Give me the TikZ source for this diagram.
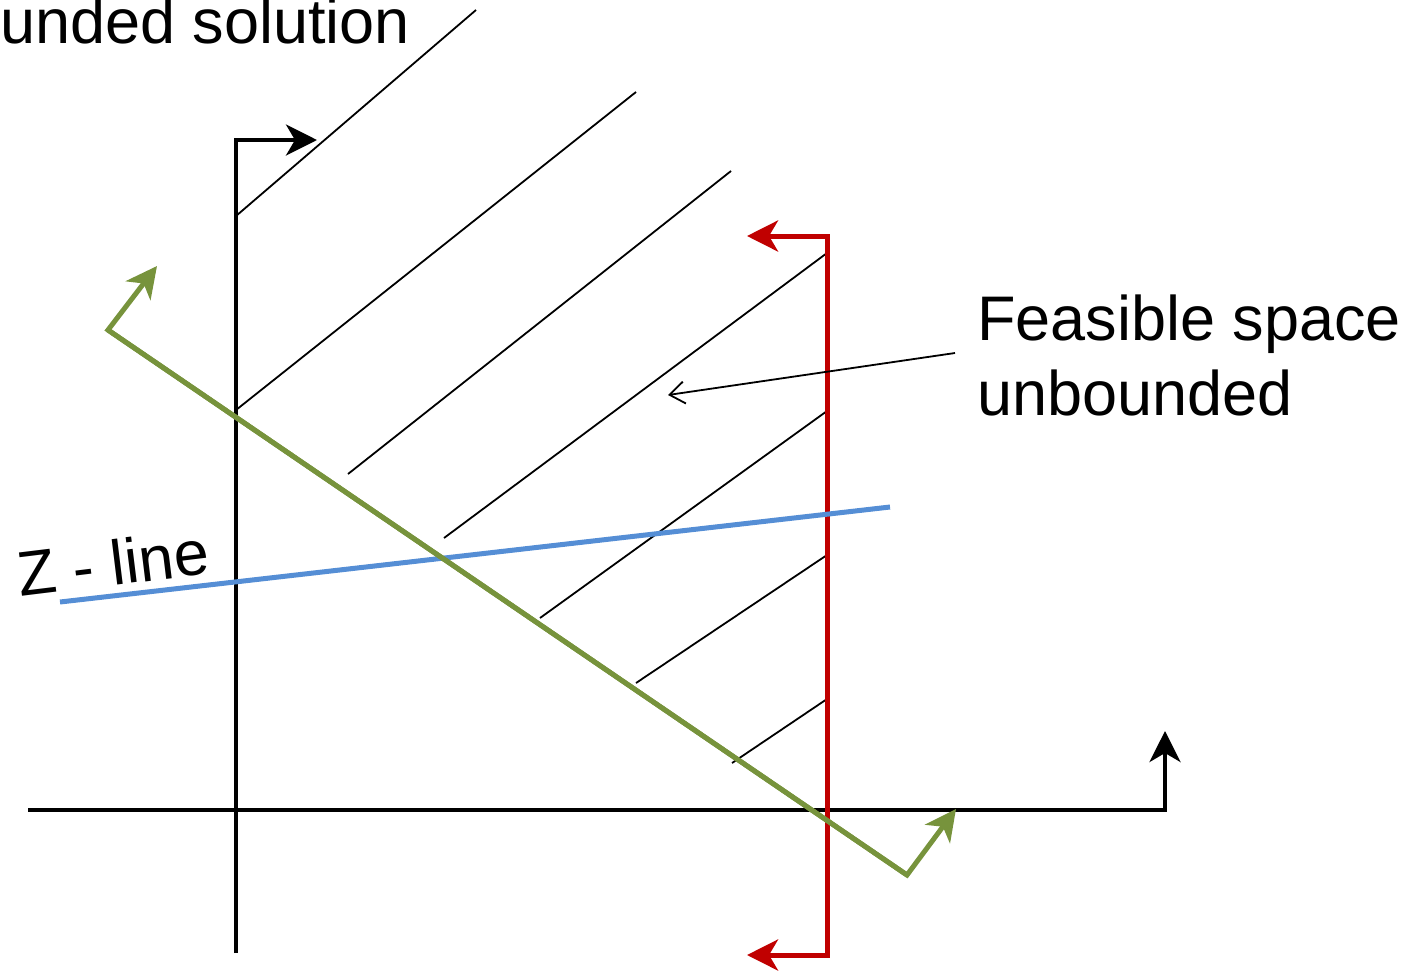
\documentclass[tikz,border=0pt]{standalone}
\usepackage{fontspec}
\setmainfont{Liberation Sans}
\usetikzlibrary{arrows.meta}
\definecolor{myred}{RGB}{192,0,0}
\definecolor{mygreen}{RGB}{119,147,60}
\definecolor{myblue}{RGB}{85,142,213}
\begin{document}
\begin{tikzpicture}[x=1pt,y=-1pt,
  axis/.style={line width=4pt,black},
  redl/.style={line width=5pt,myred},
  greenl/.style={line width=5pt,mygreen},
  bluel/.style={line width=5pt,myblue},
  hatch/.style={line width=1.8pt,black},
  bigtip/.style={-{Stealth[length=31pt,width=31pt,inset=9pt]}},
  lbl/.style={anchor=base west,inner sep=0pt,font=\fontsize{63}{75}\selectfont,align=left}]
\useasboundingbox (0,0) rectangle (1418,970);
\clip (0,0) rectangle (1418,970);
% coordinates
\coordinate (vtop) at (236,140);
\coordinate (vbot) at (236,953);
\coordinate (varr) at (317,140);
\coordinate (hl) at (28,810);
\coordinate (hr) at (1165,810);
\coordinate (harr) at (1165,731);
\coordinate (rtop) at (827,236);
\coordinate (rbot) at (827,955);
\coordinate (rtarr) at (747,236);
\coordinate (rbarr) at (747,955);
\coordinate (gtop) at (108,330);
\coordinate (gbot) at (907,875);
\coordinate (gtarr) at (157,266);
\coordinate (gbarr) at (956,809);
\coordinate (bl) at (60,602);
\coordinate (br) at (890,507);
% hatch lines
\draw[hatch] (236,216) -- (476,10);
\draw[hatch] (236,410) -- (636,92);
\draw[hatch] (348,474) -- (731,171);
\draw[hatch] (444,538) -- (827,253);
\draw[hatch] (540,618) -- (827,411);
\draw[hatch] (636,683) -- (827,555);
\draw[hatch] (732,763) -- (827,699);
% axes
\draw[axis,bigtip] (vbot) -- (vtop) -- (varr);
\draw[axis,bigtip] (hl) -- (hr) -- (harr);
% red constraint
\draw[redl,bigtip] (rbot) -- (rtop) -- (rtarr);
\draw[redl,bigtip] (rtop) -- (rbot) -- (rbarr);
% blue z-line
\draw[bluel] (bl) -- (br);
% green constraint
\draw[greenl,bigtip] (gbot) -- (gtop) -- (gtarr);
\draw[greenl,bigtip] (gtop) -- (gbot) -- (gbarr);
% labels
\node[lbl] (sol) at (0,43) {unded solution};
\node[lbl] (feas) at (977,415) {Feasible space\\unbounded};
\node[lbl,rotate=7] (zl) at (20,597) {Z - line};
\coordinate (lstart) at (955,353);
\coordinate (lend) at (668,395);
\draw[line width=1.8pt,-{Straight Barb[length=15pt,width=22pt]}] (lstart) -- (lend);
\end{tikzpicture}
\end{document}
